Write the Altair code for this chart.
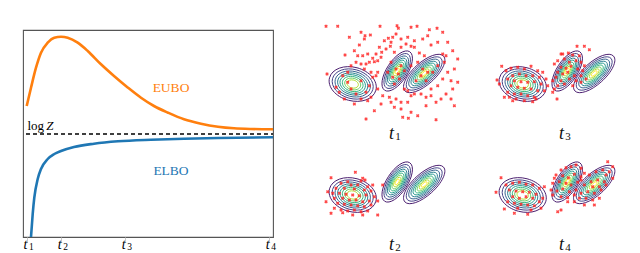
import altair as alt
import pandas as pd

# ---------------- left panel: bounds vs. time ----------------
tick_pos = [0, 34.3, 98.3, 242.3]
tick_sub = ["1", "2", "3", "4"]          # labels t1..t4 (t + subscript)
tick_label_y = -11.7                     # baseline of the labels, below the frame

eubo_x = [0, 4.3, 9.3, 14.3, 21, 27.6, 34.3, 41, 51, 61, 74.3, 87.3, 101.3, 114.3,
          127.3, 141.3, 157.3, 174.3, 191.3, 207.3, 224.3, 246.3]
eubo_y = [131, 149.3, 169.3, 184.3, 194.3, 199.3, 200.3, 199.3, 194.3, 186, 172.7, 161,
          149.3, 139.3, 131, 124.3, 117.7, 113.3, 110.3, 108.7, 108, 107.7]

elbo_x = [4.3, 6, 7.6, 11, 14.3, 21, 27.6, 34.3, 47.3, 67.3, 91.3, 124.3, 157.3, 191.3, 246.3]
elbo_y = [0, 23, 39.3, 58, 68, 78, 83, 86, 90, 93.3, 95.7, 97.3, 98.3, 99, 99.7]

logz_y = 103
logz_x = [-0.7, 246.3]

series_names = ["EUBO", "ELBO"]
series_colors = ["#ff7f0e", "#1f77b4"]
series_label_x = [144.3, 144.3]
series_label_y = [149.3, 66]

logz_text = ["log", "Z"]
logz_text_x = [0.8, 19.5]
logz_text_y = [107, 107]

# ---------------- right panels: mixture contours + samples ----------------
panel_ids = ["t1", "t3", "t2", "t4"]
panel_sub = ["1", "3", "2", "4"]
panel_col = [0, 1, 0, 1]
panel_row = [0, 0, 1, 1]
panel_span = (170, 111)          # extent of one panel in data units
label_pos = (38.8, 54.6)

comp_names = ["A", "B", "C"]
comp_cx = [0, 44.5, 71.5]
comp_cy = [0, -13, -10.5]
comp_semi = [24, 23, 26]
comp_ratio = [0.7, 0.45, 0.42]
comp_angle = [15, 303, 318]
comp_nlev = [8, 9, 9]
ring_rel = [1.0, 0.87, 0.75, 0.64, 0.54, 0.44, 0.34, 0.24, 0.14]

# sample readings (picture units, 3 per px) and the mode-A reference of each panel
panel_ref = {"t1": (125, 185), "t3": (125, 165), "t2": (125, 130), "t4": (125, 130)}

t1_pts = [(45,12),(80,12),(207,12),(258,10),(262,18),(300,15),(318,12),(378,18),(395,30),(355,22),
          (150,30),(162,40),(178,38),(115,45),(102,98),(130,85),(145,68),(160,50),
          (220,55),(232,48),(245,45),(240,60),(255,35),(270,50),(285,65),(290,45),(300,72),(310,55),
          (335,50),(350,40),(360,68),(380,60),(410,60),(405,100),(425,85),(440,110),(430,140),
          (205,75),(212,90),(225,80),(238,72),(250,90),(270,75),(310,75),(325,92),(340,100),(395,95),
          (140,100),(155,100),(170,95),(185,108),(195,95),(210,105),
          (120,130),(135,120),(150,125),(165,125),(175,120),(190,118),(200,115),
          (160,140),(180,150),(195,160),(185,165),(200,150),
          (48,155),(95,160),(110,150),
          (240,120),(255,140),(262,155),(270,130),(245,165),(230,150),(280,145),(265,170),(250,185),
          (300,130),(320,120),(335,140),(350,150),(330,160),(315,175),(345,175),(365,150),(380,130),
          (400,120),(395,170),(380,190),(360,200),
          (410,150),(420,175),(425,200),(440,180),(405,215),(420,230),(390,230),(430,250),(375,240),
          (200,200),(215,220),(235,225),(240,240),(255,230),(270,240),(290,240),(300,220),(310,215),
          (280,200),(290,205),(330,215),(345,225),(360,220),(250,255),(270,260),(300,270),(320,280),
          (345,250),(165,290),(190,265),(210,245),(180,225),(275,285),(292,288),(375,292),
          (110,180),(120,200),(135,215),(150,230),(170,235),(100,230),(130,245),(85,210),(75,195),
          (150,175),(175,190),(165,210)]

t3_pts = [(288,52),(310,52),(325,62),(262,72),(240,75),(275,78),(295,80),(250,90),(230,95),(220,105),
          (265,100),(285,95),(300,100),(310,110),(240,115),(255,118),(270,112),(290,120),(305,125),
          (230,130),(245,135),(260,130),(280,140),(300,140),(315,150),(225,145),(215,155),(240,155),
          (265,150),(285,155),(300,160),(250,165),(230,170),(220,180),(275,170),
          (62,112),(48,153),(75,125),(90,118),(110,115),(130,120),(150,112),(170,125),(185,130),
          (95,140),(115,135),(135,140),(155,140),(175,145),(195,150),(80,150),(100,155),(120,158),
          (140,160),(160,158),(180,165),(200,170),(90,170),(110,175),(130,178),(150,180),(170,185),
          (190,185),(80,190),(100,195),(120,195),(140,200),(160,205),(70,205),(85,205),(95,215),
          (105,210),(130,215),(155,218),(165,210),(55,165),
          (228,210),(215,190),(245,75)]

t2_pts = [(60,78),(133,62),(155,80),(162,85),(150,88),(110,90),(90,95),(120,100),(140,100),(170,105),
          (185,100),(75,110),(100,110),(130,112),(160,115),(180,118),(50,120),(65,125),(85,125),
          (105,128),(125,130),(145,132),(165,130),(190,135),(70,140),(95,140),(115,145),(135,145),
          (155,150),(175,148),(80,155),(100,158),(120,160),(140,162),(160,165),(180,160),(70,170),
          (90,175),(110,178),(130,175),(150,180),(170,178),(95,183),(125,190),(155,190),(200,190),
          (60,185),(215,100),(45,150),(200,148)]

t4_pts = [(60,78),(45,122),(70,172),(100,185),(140,188),(75,100),(95,95),(115,92),(135,98),(155,100),
          (175,110),(85,115),(105,118),(125,120),(145,122),(165,128),(185,140),(95,135),(115,140),
          (135,135),(155,140),(175,150),(80,150),(100,155),(120,158),(140,160),(160,162),(180,170),
          (110,170),(150,175),(190,105),
          (240,55),(255,48),(270,45),(285,40),(300,50),(225,70),(245,72),(262,78),(280,68),(300,75),
          (215,95),(235,90),(255,95),(270,100),(290,92),(210,115),(228,118),(245,112),(265,120),
          (285,115),(215,130),(240,135),(260,138),(280,130),(300,85),(310,65),(220,80),
          (325,70),(345,60),(365,55),(380,30),(375,70),(395,80),(330,90),(350,85),(370,90),(310,100),
          (335,105),(355,105),(375,100),(320,120),(340,125),(360,115),(300,125),(315,140),(335,145),
          (295,140),(310,160),(340,160),(355,140),(385,60),(395,45),
          (230,180),(240,175),(260,150),(280,150)]

panel_pts = {"t1": t1_pts, "t3": t3_pts, "t2": t2_pts, "t4": t4_pts}

# ---------------- build tables ----------------
curve_rows = ([{"series": "EUBO", "x": x, "y": y} for x, y in zip(eubo_x, eubo_y)] +
              [{"series": "ELBO", "x": x, "y": y} for x, y in zip(elbo_x, elbo_y)])
curves = pd.DataFrame(curve_rows)
labels_df = pd.DataFrame({"series": series_names, "x": series_label_x, "y": series_label_y})
logz_df = pd.DataFrame({"x": [logz_x[0]], "x2": [logz_x[1]], "y": [logz_y]})
logz_txt_df = pd.DataFrame({"t": logz_text, "x": logz_text_x, "y": logz_text_y})
ticklab_df = pd.DataFrame({"x": tick_pos, "y": [tick_label_y] * len(tick_pos), "sub": tick_sub})

rows = []
for pid, psub, pc, pr in zip(panel_ids, panel_sub, panel_col, panel_row):
    ox, oy = pc * panel_span[0], pr * panel_span[1]
    for ci, cn in enumerate(comp_names):
        for lv in range(comp_nlev[ci]):
            rows.append({"kind": "ring", "panel": pid, "comp": cn, "x": comp_cx[ci] + ox,
                         "y": comp_cy[ci] + oy, "lvl": lv, "rel": ring_rel[lv]})
    ax, ay = panel_ref[pid]
    for zx, zy in panel_pts[pid]:
        rows.append({"kind": "pt", "panel": pid, "x": (zx - ax) / 3 + ox, "y": (zy - ay) / 3 + oy})
    rows.append({"kind": "lab", "panel": pid, "x": label_pos[0] + ox, "y": label_pos[1] + oy,
                 "sub": psub})
fdf = pd.DataFrame(rows)

# ---------------- left chart ----------------
xs = alt.Scale(domain=[-3.7, 246.3], nice=False, zero=False)
ys = alt.Scale(domain=[0, 207], nice=False, zero=False)

xaxis = alt.Axis(values=tick_pos, labels=False, grid=False, domain=False,
                 tickColor="#c8c8c8", tickSize=5, tickWidth=1, title=None)
cscale = alt.Scale(domain=series_names, range=series_colors)

lines = alt.Chart(curves).mark_line(strokeWidth=2.6, clip=True, interpolate="monotone").encode(
    x=alt.X("x:Q", scale=xs, axis=xaxis),
    y=alt.Y("y:Q", scale=ys, axis=None),
    color=alt.Color("series:N", scale=cscale, legend=None),
)
rule = alt.Chart(logz_df).mark_rule(strokeDash=[4, 3], strokeWidth=1.6, color="black").encode(
    x="x:Q", x2="x2:Q", y="y:Q")
slabels = alt.Chart(labels_df).mark_text(font="Liberation Serif", fontSize=13.5).encode(
    x="x:Q", y="y:Q", text="series:N",
    color=alt.Color("series:N", scale=cscale, legend=None))
logz_log = alt.Chart(logz_txt_df).transform_filter("datum.t == 'log'").mark_text(
    font="Liberation Serif", fontSize=13, align="left", baseline="alphabetic", color="black").encode(
    x="x:Q", y="y:Q", text="t:N")
logz_z = alt.Chart(logz_txt_df).transform_filter("datum.t == 'Z'").mark_text(
    font="Liberation Serif", fontSize=13, fontStyle="italic", align="left",
    baseline="alphabetic", color="black").encode(x="x:Q", y="y:Q", text="t:N")
tick_t = alt.Chart(ticklab_df).mark_text(
    text="t", font="Liberation Serif", fontStyle="italic", fontSize=14, align="center",
    baseline="alphabetic", dx=-1.2, color="black").encode(x="x:Q", y="y:Q")
tick_s = alt.Chart(ticklab_df).mark_text(
    font="Liberation Serif", fontSize=9.5, align="left", baseline="alphabetic",
    dx=2.2, dy=1.6, color="black").encode(x="x:Q", y="y:Q", text="sub:N")

left = alt.layer(lines, rule, slabels, logz_log, logz_z, tick_t, tick_s).properties(
    width=250, height=207,
    view=alt.ViewBackground(stroke="#555555", strokeWidth=1.1, strokeOpacity=1))

# ---------------- right panels (one shared plane, 2 x 2 grid) ----------------
fx = alt.Scale(domain=[-61.7, -61.7 + 2 * panel_span[0]], nice=False, zero=False)
fy = alt.Scale(domain=[-54, -54 + 2 * panel_span[1]], nice=False, zero=False, reverse=True)
colscale = alt.Scale(scheme="viridis", domain=[-0.6, 8])


def ellipse(r):
    return f"M -1 0 A 1 {r} 0 1 0 1 0 A 1 {r} 0 1 0 -1 0 Z"


layers = []
for ci, cn in enumerate(comp_names):
    layers.append(
        alt.Chart(fdf).mark_point(shape=ellipse(comp_ratio[ci]), filled=False,
                                  angle=comp_angle[ci], strokeWidth=0.9, opacity=1).encode(
            x=alt.X("x:Q", scale=fx, axis=None),
            y=alt.Y("y:Q", scale=fy, axis=None),
            size=alt.Size("rel:Q", scale=alt.Scale(type="pow", exponent=2, domain=[0, 1],
                                                   range=[0, (2 * comp_semi[ci]) ** 2]),
                          legend=None),
            color=alt.Color("lvl:Q", scale=colscale, legend=None),
        ).transform_filter(f"datum.kind == 'ring' && datum.comp == '{cn}'")
    )
pts = alt.Chart(fdf).mark_point(shape="cross", angle=45, filled=True, size=12,
                                color="#ff1a1a", opacity=0.8).encode(
    x=alt.X("x:Q", scale=fx, axis=None),
    y=alt.Y("y:Q", scale=fy, axis=None),
).transform_filter("datum.kind == 'pt'")
lab_t = alt.Chart(fdf).mark_text(text="t", font="Liberation Serif", fontStyle="italic",
                                 fontSize=18, align="center", baseline="alphabetic",
                                 color="#111111").encode(
    x=alt.X("x:Q", scale=fx, axis=None),
    y=alt.Y("y:Q", scale=fy, axis=None),
).transform_filter("datum.kind == 'lab'")
lab_s = alt.Chart(fdf).mark_text(font="Liberation Serif", fontSize=11, align="left",
                                 baseline="alphabetic", dx=3.8, dy=1.8, color="#111111").encode(
    x=alt.X("x:Q", scale=fx, axis=None),
    y=alt.Y("y:Q", scale=fy, axis=None),
    text="sub:N",
).transform_filter("datum.kind == 'lab'")

right = alt.layer(*layers, pts, lab_t, lab_s).resolve_scale(size="independent").properties(
    width=2 * panel_span[0], height=2 * panel_span[1])

chart = alt.hconcat(left, right, spacing=18, bounds="flush",
                    padding={"left": 14, "top": 15, "right": 0, "bottom": 0}).configure_view(
    strokeWidth=0)

chart.save("out.html", embed_options={"renderer": "svg", "actions": False})
